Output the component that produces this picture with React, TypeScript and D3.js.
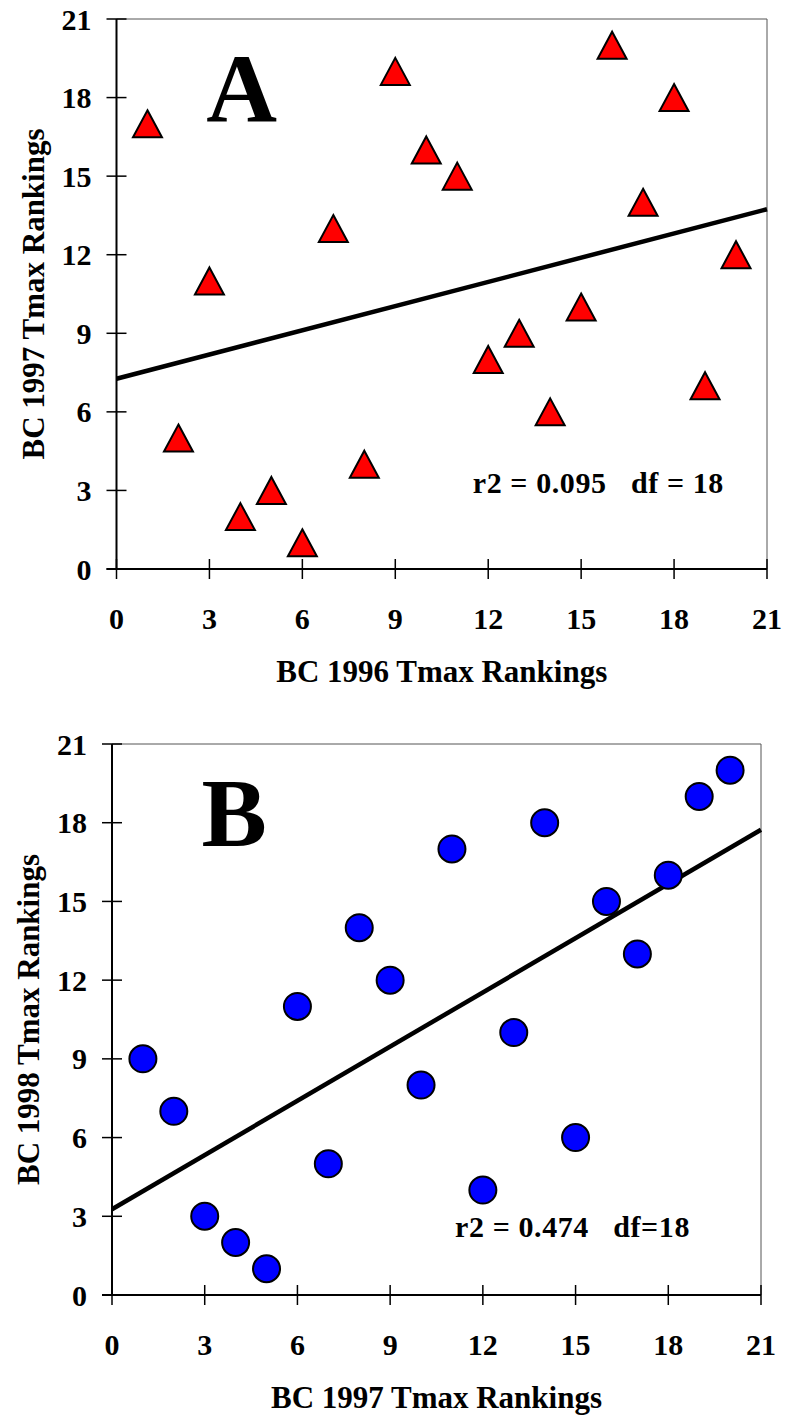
import React from 'react';
import * as d3 from 'd3';

// rankings, 1..20 for each year
const ranks = d3.range(1, 21);
const rank1997vs1996 = [17, 5, 11, 2, 3, 1, 13, 4, 19, 16, 15, 8, 9, 6, 10, 20, 14, 18, 7, 12];
const rank1998vs1997 = [9, 7, 3, 2, 1, 11, 5, 14, 12, 8, 17, 4, 10, 18, 6, 15, 13, 16, 19, 20];
const tickValues = [0, 3, 6, 9, 12, 15, 18, 21];

const FONT = "'Liberation Serif', 'Times New Roman', serif";

type Panel = {
  letter: string;
  xs: number[];
  ys: number[];
  xTitle: string;
  yTitle: string;
  stats: string;
  marker: 'triangle' | 'circle';
  left: number;
  right: number;
  top: number;
  bottom: number;
  statsPos: [number, number];
};

const panels: Panel[] = [
  {
    letter: 'A',
    xs: ranks,
    ys: rank1997vs1996,
    xTitle: 'BC 1996 Tmax Rankings',
    yTitle: 'BC 1997 Tmax Rankings',
    stats: 'r2 = 0.095   df = 18',
    marker: 'triangle',
    left: 116.5, right: 767, top: 19, bottom: 569,
    statsPos: [11.5, 2.9],
  },
  {
    letter: 'B',
    xs: ranks,
    ys: rank1998vs1997,
    xTitle: 'BC 1997 Tmax Rankings',
    yTitle: 'BC 1998 Tmax Rankings',
    stats: 'r2 = 0.474   df=18',
    marker: 'circle',
    left: 112, right: 761, top: 744, bottom: 1295,
    statsPos: [11.1, 2.2],
  },
];

// least squares fit of y on x
function fit(xs: number[], ys: number[]) {
  const mx = d3.mean(xs)!;
  const my = d3.mean(ys)!;
  const sxy = d3.sum(xs, (x, i) => (x - mx) * (ys[i] - my));
  const sxx = d3.sum(xs, (x) => (x - mx) ** 2);
  const slope = sxy / sxx;
  return { slope, intercept: my - slope * mx };
}

const txt: React.CSSProperties = { fontFamily: FONT, fontWeight: 'bold', whiteSpace: 'pre' };

const ScatterPanel: React.FC<{ p: Panel }> = ({ p }) => {
  const x = d3.scaleLinear().domain([0, 21]).range([p.left, p.right]);
  const y = d3.scaleLinear().domain([0, 21]).range([p.bottom, p.top]);
  const { slope, intercept } = fit(p.xs, p.ys);
  const line = d3.line<number>().x((d) => x(d)).y((d) => y(intercept + slope * d));
  const tri = 'M0,-13.5L14.5,13.5L-14.5,13.5Z';
  const midY = (p.top + p.bottom) / 2;
  const midX = (p.left + p.right) / 2;

  return (
    <g fill="#000">
      {/* frame: thin grey top/right */}
      <line x1={x(0)} x2={x(21)} y1={y(21)} y2={y(21)} stroke="#555" strokeWidth={1} />
      <line x1={x(21)} x2={x(21)} y1={y(21)} y2={y(0)} stroke="#555" strokeWidth={1} />
      {/* axes */}
      <line x1={x(0)} x2={x(0)} y1={y(21)} y2={y(0)} stroke="#000" strokeWidth={2} />
      <line x1={x(0) - 10} x2={x(21)} y1={y(0)} y2={y(0)} stroke="#000" strokeWidth={2} />
      {tickValues.map((t) => (
        <g key={'y' + t}>
          <line x1={x(0) - 10} x2={x(0) + 10} y1={y(t)} y2={y(t)} stroke="#000" strokeWidth={1.5} />
          <text x={x(0) - 25} y={y(t)} dy="0.35em" textAnchor="end" fontSize={30} style={txt}>{t}</text>
        </g>
      ))}
      {tickValues.map((t) => (
        <g key={'x' + t}>
          <line x1={x(t)} x2={x(t)} y1={y(0) - 10} y2={y(0) + 10} stroke="#000" strokeWidth={1.5} />
          <text x={x(t)} y={y(0) + 60} textAnchor="middle" fontSize={30} style={txt}>{t}</text>
        </g>
      ))}
      {/* regression line */}
      <path d={line([0, 21]) ?? ''} fill="none" stroke="#000" strokeWidth={4.5} />
      {/* points */}
      {p.xs.map((xv, i) =>
        p.marker === 'triangle' ? (
          <path key={i} d={tri} transform={`translate(${x(xv)},${y(p.ys[i])})`}
            fill="#ff0000" stroke="#000" strokeWidth={2} strokeLinejoin="miter" />
        ) : (
          <circle key={i} cx={x(xv)} cy={y(p.ys[i])} r={13.5} fill="#0000ff" stroke="#000" strokeWidth={2} />
        )
      )}
      {/* labels */}
      <text x={x(2.9)} y={y(17.1)} fontSize={98} style={txt}>{p.letter}</text>
      <text x={x(p.statsPos[0])} y={y(p.statsPos[1])} fontSize={30} letterSpacing={0.6} style={txt}>{p.stats}</text>
      <text x={midX} y={p.bottom + 113} textAnchor="middle" fontSize={31} style={txt}>{p.xTitle}</text>
      <text transform={`translate(${p.left - 73},${midY}) rotate(-90)`} textAnchor="middle" fontSize={31} style={txt}>{p.yTitle}</text>
    </g>
  );
};

export default function App() {
  return (
    <svg width={785} height={1416} style={{ position: 'absolute', left: 0, top: 0, background: '#fff' }}>
      <rect width={785} height={1416} fill="#fff" />
      {panels.map((p) => (
        <ScatterPanel key={p.letter} p={p} />
      ))}
    </svg>
  );
}
